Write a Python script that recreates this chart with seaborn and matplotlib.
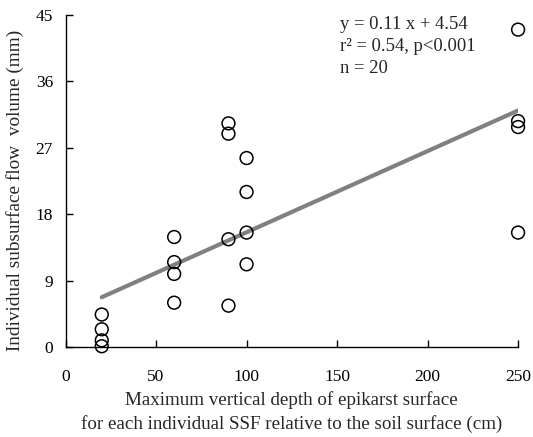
import matplotlib
matplotlib.use("Agg")
import matplotlib.pyplot as plt
import seaborn as sns
import numpy as np
import pandas as pd

# Maximum vertical depth of epikarst surface (cm) and subsurface flow volume (mm)
depth = [20, 20, 20, 20,
         60, 60, 60, 60,
         90, 90, 90, 90,
         100, 100, 100, 100,
         250, 250, 250, 250]
volume = [4.4, 2.4, 0.9, 0.1,
          14.9, 11.5, 9.9, 6.0,
          30.3, 28.9, 14.6, 5.6,
          25.6, 21.0, 15.5, 11.2,
          43.0, 30.6, 29.8, 15.5]

# Fitted regression y = slope * x + intercept
slope = 0.11
intercept = 4.54
fit_x = [20, 250]

x_ticks = [0, 50, 100, 150, 200, 250]
y_ticks = [0, 9, 18, 27, 36, 45]

sns.set_style("ticks")
plt.rcParams["font.family"] = ["Liberation Serif", "DejaVu Serif"]

df = pd.DataFrame({"depth": depth, "volume": volume})
fit = pd.DataFrame({"x": fit_x, "y": [slope * v + intercept for v in fit_x]})

fig = plt.figure(figsize=(5.33, 4.37), dpi=100)
ax = fig.add_axes([0.123, 0.206, 0.849, 0.760])

sns.lineplot(data=fit, x="x", y="y", ax=ax, color="#808080", linewidth=3, zorder=2)
sns.scatterplot(data=df, x="depth", y="volume", ax=ax, marker="o", s=85,
                facecolor="none", edgecolor="black", linewidth=1.1, zorder=3, clip_on=False)

ax.set_xlim(0, 250)
ax.set_ylim(0, 45)
ax.set_xticks(x_ticks)
ax.set_yticks(y_ticks)
ax.tick_params(direction="in", length=5, width=1, labelsize=12.5, colors="black")
ax.tick_params(axis="x", pad=16)
ax.tick_params(axis="y", pad=9)
for s in ["top", "right"]:
    ax.spines[s].set_visible(False)
for s in ["left", "bottom"]:
    ax.spines[s].set_linewidth(1)
    ax.spines[s].set_color("black")

ax.set_xlabel("Maximum vertical depth of epikarst surface\nfor each individual SSF relative to the soil surface (cm)",
              fontsize=13.7, linespacing=1.45, labelpad=4)
ax.set_ylabel("Individual subsurface flow  volume (mm)", fontsize=13.9)
ax.yaxis.set_label_coords(-0.092, 0.473)

ax.text(0.607, 0.998, "y = 0.11 x + 4.54\nr² = 0.54, p<0.001\nn = 20",
        transform=ax.transAxes, ha="left", va="top", fontsize=13.4, linespacing=1.4)

fig.savefig("out.png", dpi=100)
